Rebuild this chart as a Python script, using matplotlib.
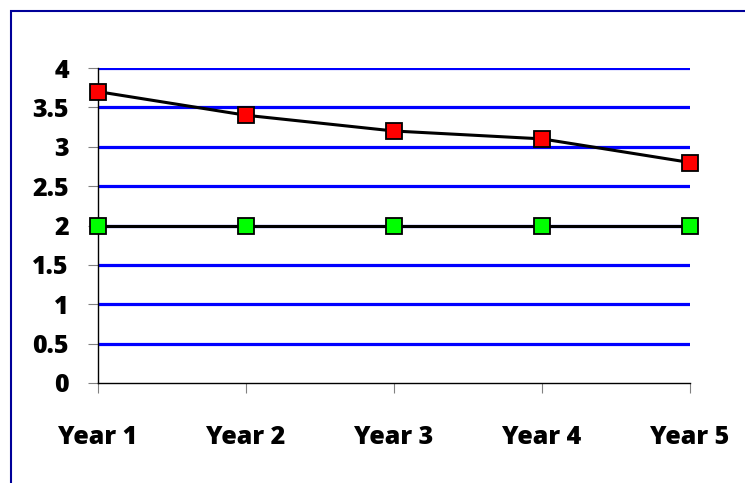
import matplotlib.pyplot as plt
from matplotlib.patches import Rectangle

categories = ['Year 1', 'Year 2', 'Year 3', 'Year 4', 'Year 5']
red_series = [3.7, 3.4, 3.2, 3.1, 2.8]
green_series = [2, 2, 2, 2, 2]
y_ticks = [0, 0.5, 1, 1.5, 2, 2.5, 3, 3.5, 4]
y_labels = ['0', '0.5', '1', '1.5', '2', '2.5', '3', '3.5', '4']

plt.rcParams['font.family'] = ['Open Sans', 'DejaVu Sans']

fig = plt.figure(figsize=(7.45, 4.83), dpi=100)
ax = fig.add_axes([98/745, 100/483, 592/745, 315/483])

# outer frame (only top and left edges are visible in the reference)
fig.patches.append(Rectangle((10.5/745, -0.1), 1.2, (472.5/483) + 0.1,
                             transform=fig.transFigure, fill=False,
                             edgecolor='#000099', linewidth=1.5))

x = list(range(len(categories)))
for v in y_ticks[1:]:
    ax.axhline(v, color='#0000FF', linewidth=2.3, zorder=1)

ax.plot(x, green_series, color='black', linewidth=2.2, marker='s',
        markersize=11.5, markerfacecolor='#00FF00', markeredgecolor='black',
        markeredgewidth=1.3, clip_on=False, zorder=3)
ax.plot(x, red_series, color='black', linewidth=2.2, marker='s',
        markersize=11.5, markerfacecolor='#FF0000', markeredgecolor='black',
        markeredgewidth=1.3, clip_on=False, zorder=3)

ax.set_xlim(0, 4)
ax.set_ylim(0, 4)
ax.set_xticks(x)
ax.set_xticklabels(categories, fontsize=18, fontweight=800)
ax.set_yticks(y_ticks)
ax.set_yticklabels(y_labels, fontsize=18, fontweight=800)
ax.tick_params(axis='x', direction='out', length=7, color='#808080', pad=23)
ax.tick_params(axis='y', direction='out', length=7, color='#808080', pad=14)

for s in ['top', 'right']:
    ax.spines[s].set_visible(False)
ax.spines['left'].set_color('black')
ax.spines['bottom'].set_color('black')
ax.spines['left'].set_linewidth(1)
ax.spines['bottom'].set_linewidth(1)

fig.savefig('out.png', dpi=100)
